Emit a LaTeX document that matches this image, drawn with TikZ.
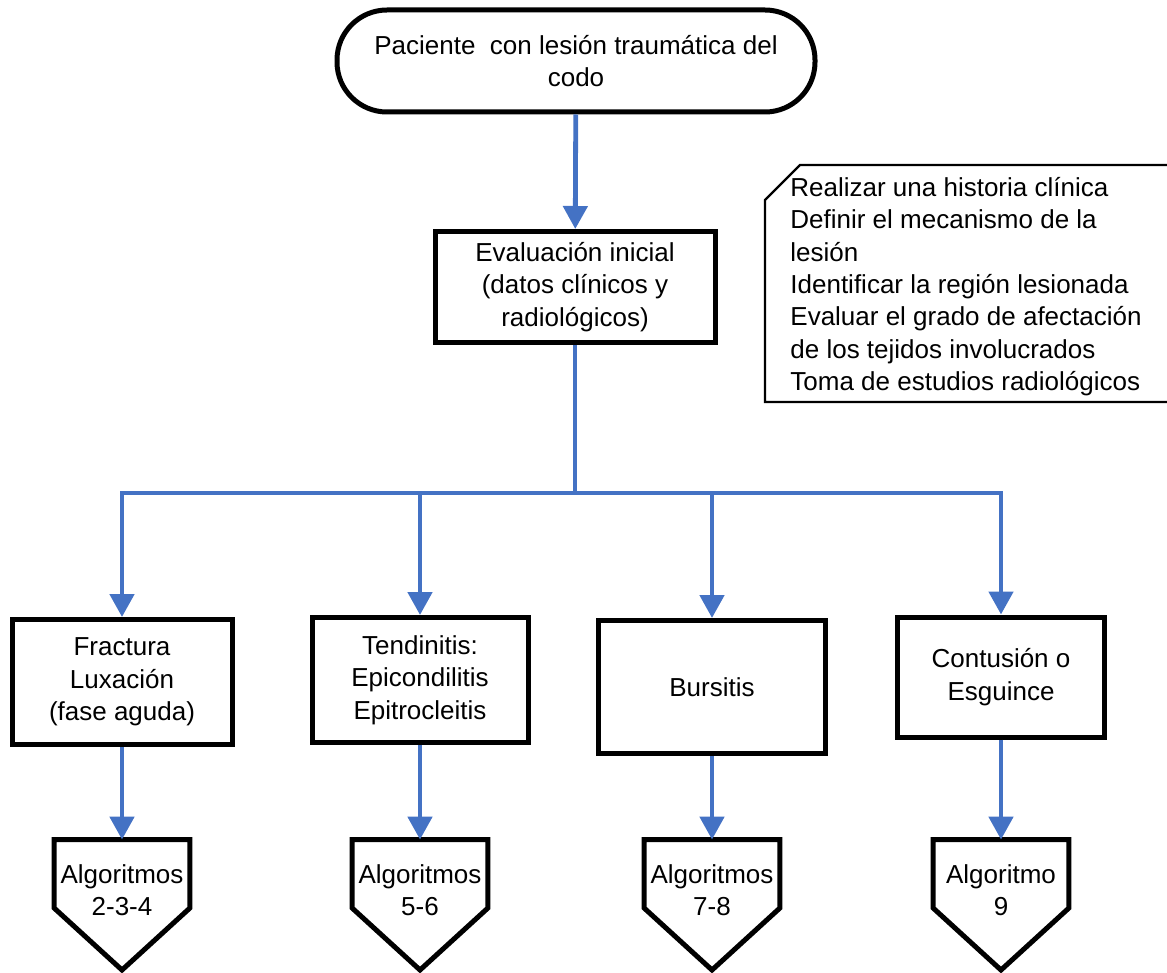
\documentclass[tikz,border=0pt]{standalone}
\usepackage{fontspec}
\setmainfont{Liberation Sans}
\usetikzlibrary{arrows.meta}
\definecolor{flowblue}{HTML}{4472C4}
\begin{document}
\begin{tikzpicture}[x=0.5pt,y=-0.5pt,
  every node/.style={font=\fontsize{13pt}{16.15pt}\selectfont, align=center, inner sep=0pt},
  term/.style={draw, line width=2.5pt, rounded corners=25pt, minimum width=239pt, minimum height=51pt},
  box/.style={draw, line width=2.5pt, minimum width=#1},
  algo/.style={minimum width=67.5pt, minimum height=50pt},
  algoframe/.style={draw, line width=2.5pt, line join=miter},
  wire/.style={draw=flowblue, line width=2.4pt},
  flow/.style={wire, -{Triangle[width=12pt,length=11.5pt]}},
  notefr/.style={draw, line width=1.2pt}
]
\useasboundingbox (0,0) rectangle (1167,973);
\clip (0,0) rectangle (1167,973);

% start terminal and first evaluation step
\node[term] (p) at (576,61) {Paciente\ \ con lesión traumática del\\codo};
\node[box=140pt, minimum height=55.5pt] (e) at (575,287) {Evaluación inicial\\(datos clínicos y\\radiológicos)};
\draw[flow] (p) -- (e);

% checklist note, open on the right side
\node[anchor=north west, align=left] (nt) at (790,177) {Realizar una historia clínica\\Definir el mecanismo de la\\lesión\\Identificar la región lesionada\\Evaluar el grado de afectación\\de los tejidos involucrados\\Toma de estudios radiológicos};
\draw[notefr] (1180,165) -- (800,165) -- (765,200) -- (765,402) -- (1180,402);

% diagnostic groups
\node[box=110pt, minimum height=62.5pt] (b1) at (122,682) {Fractura\\Luxación\\(fase aguda)};
\node[box=108pt, minimum height=62.5pt] (b2) at (420,680) {Tendinitis:\\Epicondilitis\\Epitrocleitis};
\node[box=113.5pt, minimum height=66.5pt] (b3) at (712,687) {Bursitis};
\node[box=103.5pt, minimum height=60pt] (b4) at (1001,677) {Contusión o\\Esguince};

% branching bus
\coordinate (j) at (575,493);
\draw[wire] (e) -- (j);
\foreach \b in {b1,b2,b3,b4} \draw[flow] (j) -| (\b.north);

% off-page references to the algorithms
\node[algo] (a1) at (122,890) {Algoritmos\\2-3-4};
\node[algo] (a2) at (420,890) {Algoritmos\\5-6};
\node[algo] (a3) at (712,890) {Algoritmos\\7-8};
\node[algo] (a4) at (1001,890) {Algoritmo\\9};
\foreach \a in {a1,a2,a3,a4}
  \draw[algoframe] (\a.north west) -- (\a.north east) -- ([yshift=-9pt]\a.east)
    -- ([yshift=-40pt]\a.center) -- ([yshift=-9pt]\a.west) -- cycle;

\draw[flow] (b1.south) -- (a1.north);
\draw[flow] (b2.south) -- (a2.north);
\draw[flow] (b3.south) -- (a3.north);
\draw[flow] (b4.south) -- (a4.north);
\end{tikzpicture}
\end{document}
